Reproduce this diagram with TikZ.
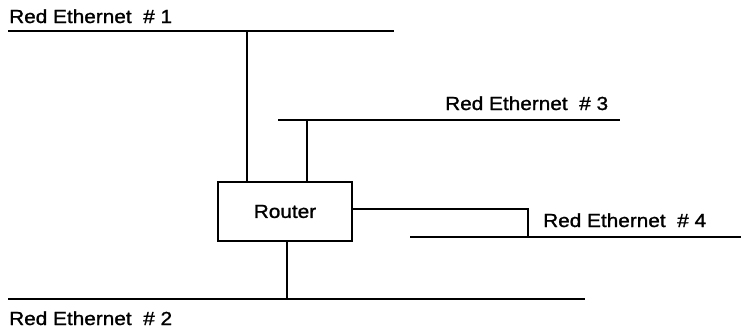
\documentclass[tikz,border=0pt]{standalone}
\usepackage{fontspec}
\setmainfont{Liberation Sans}
\newfontfamily\lblfont[FakeBold=1.2]{Liberation Sans}
\begin{document}
\begin{tikzpicture}[x=1pt,y=-1pt,
  bus/.style={line width=1.6pt},
  link/.style={line width=1.6pt},
  lbl/.style={anchor=base west,inner sep=0pt,font=\lblfont\fontsize{18.9}{22}\selectfont},
  routerbox/.style={draw,line width=1.6pt,minimum width=134pt,minimum height=59pt,inner sep=0pt,font=\lblfont\fontsize{18.9}{22}\selectfont}]
\useasboundingbox (0,0) rectangle (741,330);
% buses
\coordinate (n1a) at (8,31);  \coordinate (n1b) at (394,31);
\coordinate (n3a) at (278,120); \coordinate (n3b) at (620,120);
\coordinate (n4a) at (410,237); \coordinate (n4b) at (741,237);
\coordinate (n2a) at (8,299);  \coordinate (n2b) at (585,299);
\draw[bus] (n1a) -- (n1b);
\draw[bus] (n3a) -- (n3b);
\draw[bus] (n4a) -- (n4b);
\draw[bus] (n2a) -- (n2b);
% labels
\node[lbl] (t1) at (9,23) {\scalebox{1.1}[1]{Red Ethernet\ \ \# 1}};
\node[lbl] (t3) at (445,110) {\scalebox{1.1}[1]{Red Ethernet\ \ \# 3}};
\node[lbl] (t4) at (543,227) {\scalebox{1.1}[1]{Red Ethernet\ \ \# 4}};
\node[lbl] (t2) at (9,325) {\scalebox{1.1}[1]{Red Ethernet\ \ \# 2}};
% router
\node[routerbox] (router) at (285,211.5) {\scalebox{1.1}[1]{Router}};
% taps
\coordinate (j1) at (247,31);
\coordinate (j3) at (307,120);
\coordinate (j2) at (287,299);
\coordinate (j4) at (528,237);
\draw[link] (j1) -- (j1 |- router.north);
\draw[link] (j3) -- (j3 |- router.north);
\draw[link] (j2) -- (j2 |- router.south);
\draw[link] (router.east |- 0,209) -- (528,209) -- (j4);
\end{tikzpicture}
\end{document}
